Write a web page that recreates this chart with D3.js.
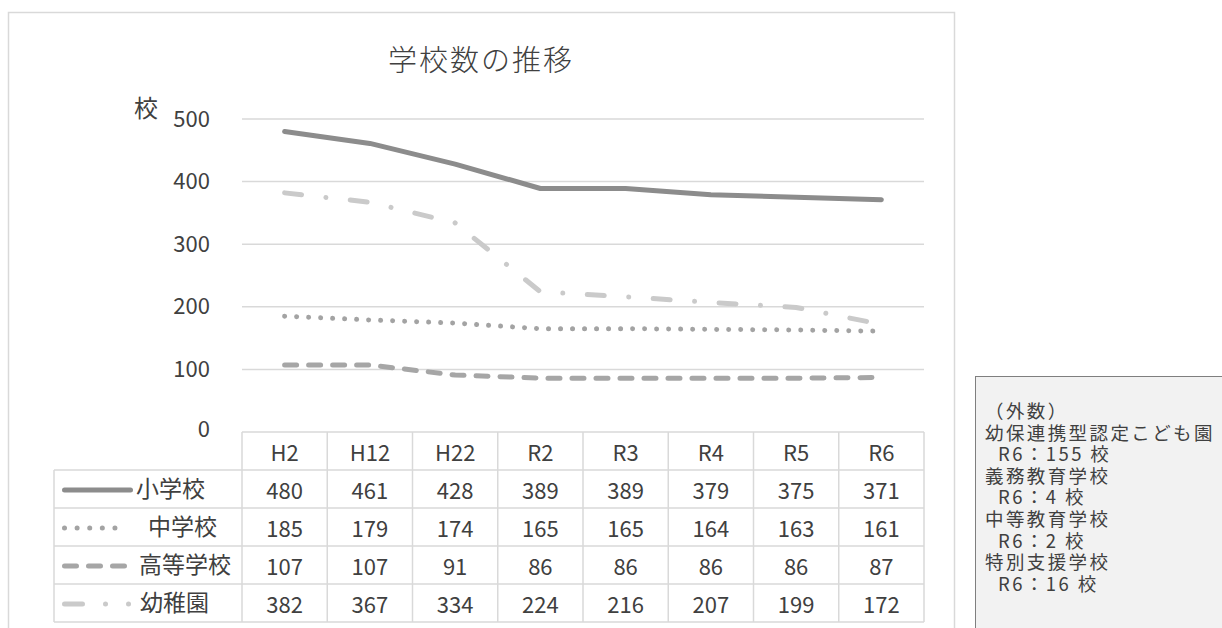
<!DOCTYPE html>
<html>
<head>
<meta charset="utf-8">
<script src="https://cdn.jsdelivr.net/npm/d3@7"></script>
<style>
  body { margin: 0; background: #fff; }
  text { font-family: "Noto Sans CJK JP", "Noto Sans", sans-serif; fill: #404040; }
</style>
</head>
<body>
<div id="chart"></div>
<script>
// data
const categories = ["H2", "H12", "H22", "R2", "R3", "R4", "R5", "R6"]
const elementary = [480, 461, 428, 389, 389, 379, 375, 371]
const juniorHigh = [185, 179, 174, 165, 165, 164, 163, 161]
const highSchool = [107, 107, 91, 86, 86, 86, 86, 87]
const kindergarten = [382, 367, 334, 224, 216, 207, 199, 172]
const seriesNames = ["小学校", "中学校", "高等学校", "幼稚園"]
const yTicks = [0, 100, 200, 300, 400, 500]
const noteLines = ["（外数）", "幼保連携型認定こども園", "  R6：155 校", "義務教育学校", "  R6：4 校",
    "中等教育学校", "  R6：2 校", "特別支援学校", "  R6：16 校"]

const W = 1222, H = 628
let config = {
    plotLeft: 242,
    plotRight: 924,
    plotTop: 119,
    plotBottom: 432,
    rowH: 38,
    tableLeft: 54
}

// line styles per series
const styles = [
    {color: "#8c8c8c", dash: null, legendDash: null},
    {color: "#a3a3a3", dash: "0.01,12", legendDash: "0.01,12.6"},
    {color: "#a6a6a6", dash: "12,12", legendDash: "12,12"},
    {color: "#cacaca", dash: "17,24.5,0.01,24.5", legendDash: "18,23,0.01,23,0.01,200"}
]
const seriesValues = [elementary, juniorHigh, highSchool, kindergarten]

let svg = d3.select("#chart")
    .append("svg")
    .attr("width", W)
    .attr("height", H)

// outer chart frame (open at the bottom)
svg.append("rect")
    .attr("x", 8.5).attr("y", 12.5)
    .attr("width", 946).attr("height", 660)
    .attr("fill", "none")
    .attr("stroke", "#d9d9d9")
    .attr("stroke-width", 1.5)

svg.append("text")
    .attr("x", 481).attr("y", 58)
    .attr("text-anchor", "middle")
    .attr("dominant-baseline", "central")
    .attr("font-size", 29)
    .attr("letter-spacing", 2)
    .attr("font-weight", 300)
    .text("学校数の推移")

let x = d3.scaleBand()
    .domain(categories)
    .range([config.plotLeft, config.plotRight])

let y = d3.scaleLinear()
    .domain([0, 500])
    .range([config.plotBottom, config.plotTop])

// gridlines
svg.append("g")
    .selectAll("line")
    .data(yTicks.filter(d => d > 0))
    .join("line")
    .attr("x1", config.plotLeft).attr("x2", config.plotRight)
    .attr("y1", d => y(d)).attr("y2", d => y(d))
    .attr("stroke", "#d9d9d9")
    .attr("stroke-width", 1.5)

let yAxis = d3.axisLeft(y)
    .tickValues(yTicks)
    .tickSize(0)
    .tickPadding(32)

let yg = svg.append("g")
    .attr("transform", `translate(${config.plotLeft},0)`)
    .call(yAxis)
yg.select(".domain").remove()
yg.selectAll("text")
    .attr("font-size", 22)
    .attr("font-family", null)
    .attr("fill", "#404040")
yg.selectAll(".tick").filter(d => d === 0).select("text").attr("dy", "0.2em")

svg.append("text")
    .attr("x", 146).attr("y", 106)
    .attr("text-anchor", "middle")
    .attr("dominant-baseline", "central")
    .attr("font-size", 24)
    .text("校")

// lines
const line = d3.line()
    .x((d, i) => x(categories[i]) + x.bandwidth() / 2)
    .y(d => y(d))

svg.append("g")
    .selectAll("path")
    .data(seriesValues.slice().reverse())
    .join("path")
    .attr("d", d => line(d))
    .attr("fill", "none")
    .attr("stroke", (d, i) => styles[3 - i].color)
    .attr("stroke-width", 5)
    .attr("stroke-linecap", "round")
    .attr("stroke-linejoin", "round")
    .attr("stroke-dasharray", (d, i) => styles[3 - i].dash)

// data table
let table = svg.append("g")
let rowY = i => config.plotBottom + config.rowH * i
let colEdges = categories.map(c => x(c)).concat([config.plotRight])

table.append("g")
    .selectAll("line")
    .data(d3.range(6))
    .join("line")
    .attr("x1", i => i === 0 ? config.plotLeft : config.tableLeft)
    .attr("x2", config.plotRight)
    .attr("y1", i => rowY(i)).attr("y2", i => rowY(i))
    .attr("stroke", "#d9d9d9").attr("stroke-width", 1.5)

table.append("g")
    .selectAll("line")
    .data(colEdges)
    .join("line")
    .attr("x1", d => d).attr("x2", d => d)
    .attr("y1", rowY(0)).attr("y2", rowY(5))
    .attr("stroke", "#d9d9d9").attr("stroke-width", 1.5)

table.append("line")
    .attr("x1", config.tableLeft).attr("x2", config.tableLeft)
    .attr("y1", rowY(1)).attr("y2", rowY(5))
    .attr("stroke", "#d9d9d9").attr("stroke-width", 1.5)

// header row
table.append("g")
    .selectAll("text")
    .data(categories)
    .join("text")
    .attr("x", d => x(d) + x.bandwidth() / 2)
    .attr("y", rowY(0) + config.rowH / 2)
    .attr("text-anchor", "middle")
    .attr("dominant-baseline", "central")
    .attr("font-size", 22)
    .text(d => d)

// value rows
seriesValues.forEach((vals, r) => {
    let cy = rowY(r + 1) + config.rowH / 2
    table.append("g")
        .selectAll("text")
        .data(vals)
        .join("text")
        .attr("x", (d, i) => x(categories[i]) + x.bandwidth() / 2)
        .attr("y", cy)
        .attr("text-anchor", "middle")
        .attr("dominant-baseline", "central")
        .attr("font-size", 22)
        .text(d => d)

    // legend key
    table.append("line")
        .attr("x1", 64.5).attr("x2", r === 0 ? 130.5 : (r === 3 ? 130.5 : 127))
        .attr("y1", cy + 1).attr("y2", cy + 1)
        .attr("stroke", styles[r].color)
        .attr("stroke-width", 5)
        .attr("stroke-linecap", "round")
        .attr("stroke-dasharray", styles[r].legendDash)

    table.append("text")
        .attr("x", [136, 148, 139, 140][r])
        .attr("y", cy - 2)
        .attr("dominant-baseline", "central")
        .attr("font-size", 23)
        .text(seriesNames[r])
})

// note box
svg.append("rect")
    .attr("x", 975.5).attr("y", 376.5)
    .attr("width", 300).attr("height", 300)
    .attr("fill", "#f2f2f2")
    .attr("stroke", "#7f7f7f")
    .attr("stroke-width", 1)

svg.append("g")
    .selectAll("text")
    .data(noteLines)
    .join("text")
    .attr("x", 985)
    .attr("y", (d, i) => 410 + i * 21.6)
    .attr("dominant-baseline", "central")
    .attr("font-size", 18.5)
    .attr("letter-spacing", 2.4)
    .style("white-space", "pre")
    .text(d => d)
</script>
</body>
</html>
